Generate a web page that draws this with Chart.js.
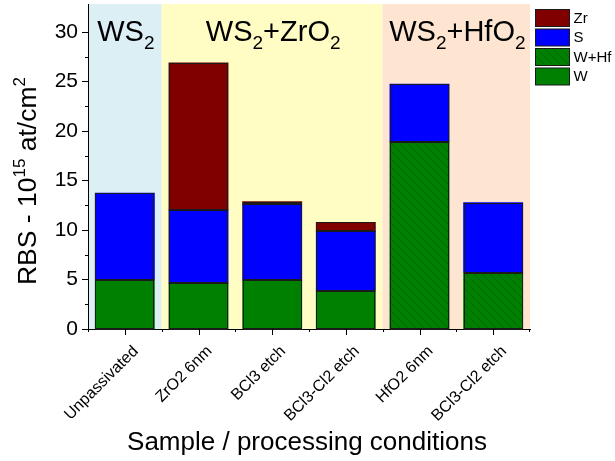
<!DOCTYPE html>
<html>
<head>
<meta charset="utf-8">
<title>RBS areal density</title>
<script src="https://cdn.jsdelivr.net/npm/chart.js@4.4.0/dist/chart.umd.min.js"></script>
<style>
  html, body { margin: 0; padding: 0; background: #fff; }
  #chart-rbs { display: block; }
</style>
</head>
<body>
<canvas id="chart-rbs" width="615" height="461"></canvas>
<script>
// ─── Data (10^15 at/cm^2) ────────────────────────────────
const categories = ['Unpassivated', 'ZrO2 6nm', 'BCl3 etch', 'BCl3-Cl2 etch', 'HfO2 6nm', 'BCl3-Cl2 etch'];
const wValues    = [4.95, 4.6, 4.9, 3.85, null, null];
const wHfValues  = [null, null, null, null, 18.9, 5.7];
const sValues    = [8.75, 7.4, 7.7, 6.0, 5.8, 7.05];
const zrValues   = [null, 14.85, 0.25, 0.9, null, null];

const groupLabels = ['WS_2', 'WS_2+ZrO_2', 'WS_2+HfO_2'];
const groupFirst  = [0, 1, 4];
const groupLast   = [0, 3, 5];
const groupColors = ['#dbeff4', '#fffdc3', '#fde5d1'];

const yMax      = 32.8;
const yMajor    = 5;
const yTickTop  = 30;

const FONT = "'Liberation Sans', Arial, sans-serif";
const EDGE = '#1a1a1a';

// hatched fill for W+Hf
function makeHatch() {
  const s = 8;
  const c = document.createElement('canvas');
  c.width = s; c.height = s;
  const g = c.getContext('2d');
  g.fillStyle = '#008000';
  g.fillRect(0, 0, s, s);
  g.strokeStyle = 'rgba(0,40,0,0.4)';
  g.lineWidth = 0.7;
  g.beginPath();
  g.moveTo(-1, -1); g.lineTo(s + 1, s + 1);
  g.moveTo(-1, s - 1); g.lineTo(1, s + 1);
  g.moveTo(s - 1, -1); g.lineTo(s + 1, 1);
  g.stroke();
  return g.createPattern(c, 'repeat');
}

// '_x' -> subscript, '^{..}' -> superscript
function parseRich(str) {
  const parts = [];
  let i = 0, buf = '';
  while (i < str.length) {
    const c = str[i];
    if (c === '_' || c === '^') {
      if (buf) { parts.push({ t: buf, k: 0 }); buf = ''; }
      let t;
      if (str[i + 1] === '{') { const j = str.indexOf('}', i); t = str.slice(i + 2, j); i = j + 1; }
      else { t = str[i + 1]; i += 2; }
      parts.push({ t, k: c === '_' ? 1 : -1 });
    } else { buf += c; i++; }
  }
  if (buf) parts.push({ t: buf, k: 0 });
  return parts;
}

function drawRich(ctx, str, x, y, size, small) {
  const parts = parseRich(str);
  const fontOf = k => `${k ? small : size}px ${FONT}`;
  let w = 0;
  parts.forEach(p => { ctx.font = fontOf(p.k); p.w = ctx.measureText(p.t).width; w += p.w; });
  let cx = x - w / 2;
  ctx.textAlign = 'left';
  ctx.textBaseline = 'alphabetic';
  parts.forEach(p => {
    ctx.font = fontOf(p.k);
    const dy = p.k === 1 ? size * 0.29 : (p.k === -1 ? -size * 0.42 : 0);
    ctx.fillText(p.t, cx, y + dy);
    cx += p.w;
  });
}

// ─── Background panels ───────────────────────────────────
const panelPlugin = {
  id: 'panels',
  beforeDraw(chart) {
    const { ctx, chartArea: a, scales: { x } } = chart;
    ctx.save();
    groupLabels.forEach((_, i) => {
      const x0 = x.getPixelForValue(groupFirst[i] - 0.5);
      const x1 = x.getPixelForValue(groupLast[i] + 0.5);
      ctx.fillStyle = groupColors[i];
      ctx.fillRect(x0, a.top, x1 - x0, a.bottom - a.top);
    });
    ctx.restore();
  },
  // crisp outlines on the bar elements laid out by Chart.js
  afterDatasetsDraw(chart) {
    const ctx = chart.ctx;
    ctx.save();
    ctx.strokeStyle = EDGE;
    ctx.lineWidth = 1;
    chart.data.datasets.forEach((_, di) => {
      chart.getDatasetMeta(di).data.forEach(bar => {
        if (bar.skip || bar.y == null || isNaN(bar.y)) return;
        const l = Math.round(bar.x - bar.width / 2) + 0.5;
        const r = Math.round(bar.x + bar.width / 2) - 0.5;
        const t = Math.round(Math.min(bar.y, bar.base)) + 0.5;
        const b = Math.round(Math.max(bar.y, bar.base)) - 0.5;
        ctx.strokeRect(l, t, r - l, b - t);
      });
    });
    ctx.restore();
  },
};

// ─── Titles, ticks, legend ───────────────────────────────
const decorPlugin = {
  id: 'decor',
  afterDraw(chart) {
    const { ctx, chartArea: a, scales: { x, y } } = chart;
    ctx.save();
    ctx.fillStyle = '#000';

    // group titles
    groupLabels.forEach((lbl, i) => {
      const cx = (x.getPixelForValue(groupFirst[i] - 0.5) + x.getPixelForValue(groupLast[i] + 0.5)) / 2;
      drawRich(ctx, lbl, cx + 1, a.top + 37, 29, 19);
    });

    // ticks
    ctx.strokeStyle = '#000';
    ctx.lineWidth = 1;
    ctx.beginPath();
    for (let v = 0; v <= yTickTop; v += yMajor / 2) {
      const py = Math.round(y.getPixelForValue(v)) + 0.5;
      const len = v % yMajor === 0 ? 6 : 3;
      ctx.moveTo(a.left - len, py); ctx.lineTo(a.left, py);
    }
    categories.forEach((_, i) => {
      const px = Math.round(x.getPixelForValue(i)) + 0.5;
      ctx.moveTo(px, a.bottom); ctx.lineTo(px, a.bottom + 6);
      const pb = Math.round(x.getPixelForValue(i - 0.5)) + 0.5;
      ctx.moveTo(pb, a.bottom); ctx.lineTo(pb, a.bottom + 3);
    });
    const pe = Math.round(x.getPixelForValue(categories.length - 0.5)) - 0.5;
    ctx.moveTo(pe, a.bottom); ctx.lineTo(pe, a.bottom + 3);
    ctx.stroke();

    // axis titles
    ctx.save();
    ctx.translate(36, 181);
    ctx.rotate(-Math.PI / 2);
    drawRich(ctx, 'RBS - 10^{15} at/cm^2', 0, 0, 26.5, 17);
    ctx.restore();

    ctx.font = `26px ${FONT}`;
    ctx.textAlign = 'center';
    ctx.textBaseline = 'alphabetic';
    ctx.fillText('Sample / processing conditions', (a.left + a.right) / 2 - 2, 450);

    // legend (top entry = top of stack)
    const ds = chart.data.datasets.slice().reverse();
    ds.forEach((d, i) => {
      const bx = 535.5, by = 9.5 + i * 19.5;
      ctx.fillStyle = d.backgroundColor;
      ctx.fillRect(bx, by, 34, 17);
      ctx.strokeStyle = EDGE;
      ctx.strokeRect(bx, by, 34, 17);
      ctx.fillStyle = '#000';
      ctx.font = `15px ${FONT}`;
      ctx.textAlign = 'left';
      ctx.textBaseline = 'middle';
      ctx.fillText(d.label, bx + 38, by + 9);
    });
    ctx.restore();
  },
};

const barStyle = {
  borderWidth: 0, inflateAmount: 0.5,
  categoryPercentage: 1, barPercentage: 0.8,
};

new Chart(document.getElementById('chart-rbs'), {
  type: 'bar',
  data: {
    labels: categories,
    datasets: [
      { label: 'W',    data: wValues,   backgroundColor: '#008000', ...barStyle },
      { label: 'W+Hf', data: wHfValues, backgroundColor: makeHatch(), ...barStyle },
      { label: 'S',    data: sValues,   backgroundColor: '#0000ff', ...barStyle },
      { label: 'Zr',   data: zrValues,  backgroundColor: '#800000', ...barStyle },
    ],
  },
  options: {
    responsive: false,
    animation: false,
    layout: { padding: { top: 4, right: 85, left: 0, bottom: 0 } },
    plugins: { legend: { display: false }, tooltip: { enabled: false } },
    scales: {
      x: {
        stacked: true,
        grid: { display: false, drawTicks: false },
        border: { display: true, color: '#000', width: 1 },
        ticks: {
          color: '#000', font: { size: 16, family: FONT },
          minRotation: 45, maxRotation: 45, autoSkip: false, padding: 13, labelOffset: 11,
        },
        afterFit: s => { s.height = 132; s.paddingLeft = 0; s.paddingRight = 0; },
      },
      y: {
        stacked: true, min: 0, max: yMax,
        grid: { display: false, drawTicks: false },
        border: { display: true, color: '#000', width: 1 },
        ticks: { stepSize: yMajor, color: '#000', font: { size: 21, family: FONT }, padding: 10 },
        afterBuildTicks: s => { s.ticks = s.ticks.filter(t => t.value % yMajor === 0); },
        afterFit: s => { s.width = 88; s.paddingTop = 0; s.paddingBottom = 0; },
      },
    },
  },
  plugins: [panelPlugin, decorPlugin],
});
</script>
</body>
</html>
